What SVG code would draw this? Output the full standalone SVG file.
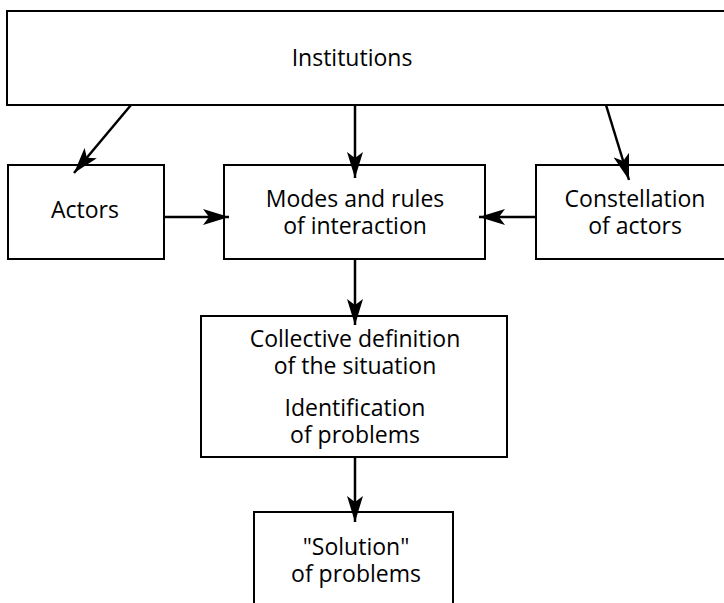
<svg xmlns="http://www.w3.org/2000/svg" width="724" height="603" viewBox="0 0 724 603">
<style>
.box{fill:#fff;stroke:#000;stroke-width:2}
.t{font-family:"Open Sans","Noto Sans",sans-serif;font-size:23px;fill:#000;text-anchor:middle}
.c{fill:none;stroke:#000;stroke-width:2.5}
</style>
<defs>
<marker id="ah" markerUnits="userSpaceOnUse" markerWidth="27" markerHeight="16" refX="26" refY="8" orient="auto" viewBox="0 0 27 16">
<path d="M26,8 L0,0 L6,8 L0,16 Z" fill="#000"/>
</marker>
</defs>
<rect width="724" height="603" fill="#fff"/>
<g id="institutions">
<rect class="box" x="7" y="11" width="730" height="94"/>
<text class="t" x="352" y="66">Institutions</text>
</g>
<g id="actors">
<rect class="box" x="8" y="165" width="156" height="94"/>
<text class="t" x="85" y="218">Actors</text>
</g>
<g id="modes">
<rect class="box" x="224" y="165" width="261" height="94"/>
<text class="t" x="355" y="207">Modes and rules</text>
<text class="t" x="355" y="234">of interaction</text>
</g>
<g id="constellation">
<rect class="box" x="536" y="165" width="200" height="94"/>
<text class="t" x="635" y="207">Constellation</text>
<text class="t" x="635" y="234">of actors</text>
</g>
<g id="collective">
<rect class="box" x="201" y="316" width="306" height="141"/>
<text class="t" x="355" y="347">Collective definition</text>
<text class="t" x="355" y="374">of the situation</text>
<text class="t" x="355" y="416">Identification</text>
<text class="t" x="355" y="443">of problems</text>
</g>
<g id="solution">
<rect class="box" x="254" y="512" width="199" height="110"/>
<text class="t" x="356" y="555">"Solution"</text>
<text class="t" x="356" y="582">of problems</text>
</g>
<g id="connectors">
<line class="c" x1="131" y1="105" x2="74" y2="173" marker-end="url(#ah)"/>
<line class="c" x1="355" y1="105" x2="355" y2="178" marker-end="url(#ah)"/>
<line class="c" x1="606" y1="105" x2="629" y2="180" marker-end="url(#ah)"/>
<line class="c" x1="164" y1="217" x2="229" y2="217" marker-end="url(#ah)"/>
<line class="c" x1="536" y1="217" x2="479" y2="217" marker-end="url(#ah)"/>
<line class="c" x1="355" y1="259" x2="355" y2="325" marker-end="url(#ah)"/>
<line class="c" x1="355" y1="457" x2="355" y2="522" marker-end="url(#ah)"/>
</g>
</svg>
